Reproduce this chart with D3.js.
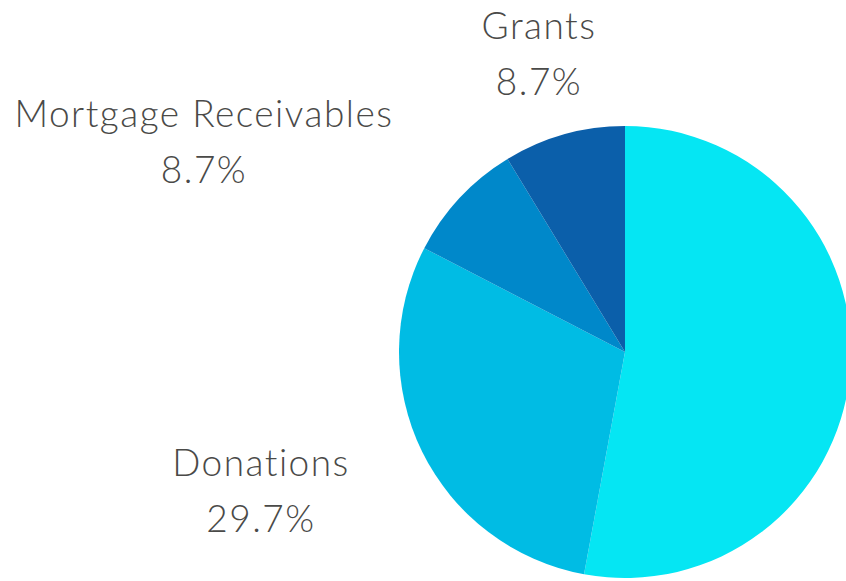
<!DOCTYPE html>
<html>
<head>
<meta charset="utf-8">
<script src="https://cdn.jsdelivr.net/npm/d3@7"></script>
<style>
  body { margin: 0; background: #fff; }
  .label { font-family: "Lato", "Open Sans", sans-serif; fill: #4a4a48; font-weight: 300; letter-spacing: 1.5px; }
</style>
</head>
<body>
<div class="chart"></div>
<script>
var svgWidth = 846;
var svgHeight = 581;

// data, clockwise from 12 o'clock
var categories = ["Other", "Donations", "Mortgage Receivables", "Grants"];
var shares = [52.9, 29.7, 8.7, 8.7];
var colors = ["#05e6f3", "#00bce4", "#0088ca", "#0b5faa"];
var showLabel = [false, true, true, true];

// label anchors (centre of the two-line label) relative to pie centre
var labelOffset = {
  "Donations": [-364, 152],
  "Mortgage Receivables": [-421, -197],
  "Grants": [-86, -285]
};

var cx = 625, cy = 352, radius = 226;

var svg = d3.select(".chart")
  .append("svg")
  .attr("width", svgWidth)
  .attr("height", svgHeight);

var pieGroup = svg.append("g")
  .attr("transform", `translate(${cx}, ${cy})`);

var pie = d3.pie().sort(null).value(d => d.value);
var arc = d3.arc().innerRadius(0).outerRadius(radius);

var data = categories.map((c, i) => ({ name: c, value: shares[i], color: colors[i], show: showLabel[i] }));

pieGroup.selectAll("path")
  .data(pie(data))
  .enter()
  .append("path")
  .attr("d", arc)
  .attr("fill", d => d.data.color);

var labels = pieGroup.selectAll("g.lbl")
  .data(pie(data).filter(d => d.data.show))
  .enter()
  .append("g")
  .attr("class", "lbl")
  .attr("transform", d => `translate(${labelOffset[d.data.name][0]}, ${labelOffset[d.data.name][1]})`);

labels.append("text")
  .attr("class", "label")
  .attr("text-anchor", "middle")
  .attr("y", -28)
  .attr("font-size", 37)
  .text(d => d.data.name);

labels.append("text")
  .attr("class", "label")
  .attr("text-anchor", "middle")
  .attr("y", 28)
  .attr("font-size", 37)
  .text(d => d3.format(".1f")(d.data.value) + "%");
</script>
</body>
</html>
